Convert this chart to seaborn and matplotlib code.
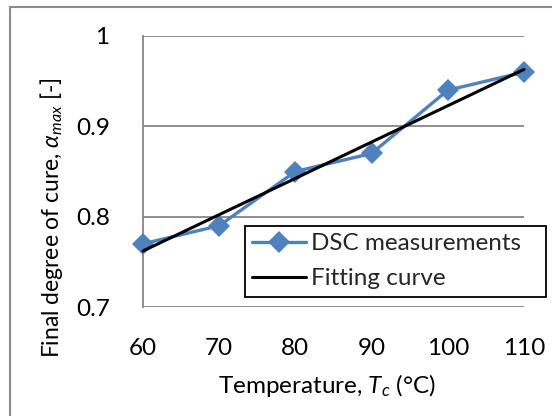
import matplotlib
matplotlib.use("Agg")
import matplotlib.pyplot as plt
import seaborn as sns
import pandas as pd
from matplotlib.patches import Rectangle

temps = [60, 70, 80, 90, 100, 110]
dsc_values = [0.77, 0.79, 0.85, 0.87, 0.94, 0.96]
fit_x = [60, 110]
fit_y = [0.762, 0.963]
x_ticks = [60, 70, 80, 90, 100, 110]
y_ticks = [0.7, 0.8, 0.9, 1.0]
y_tick_labels = ["0.7", "0.8", "0.9", "1"]

sns.set_theme(style="white")
plt.rcParams['font.family'] = ['Lato', 'DejaVu Sans']
plt.rcParams['mathtext.fontset'] = 'custom'
plt.rcParams['mathtext.it'] = 'Lato:italic'
plt.rcParams['mathtext.rm'] = 'Lato'

FS = 17.5
W, H = 552, 416

fig = plt.figure(figsize=(5.52, 4.16), dpi=100)
ax = fig.add_axes([143/W, 1-307/H, (524-143)/W, (307-36)/H])

df_dsc = pd.DataFrame({"T": temps, "a": dsc_values})
df_fit = pd.DataFrame({"T": fit_x, "a": fit_y})

sns.lineplot(data=df_dsc, x="T", y="a", ax=ax, color="#4F81BD", linewidth=2.4,
             marker="D", markersize=11, markeredgewidth=0, label="DSC measurements",
             zorder=3, clip_on=False)
sns.lineplot(data=df_fit, x="T", y="a", ax=ax, color="black", linewidth=2.2,
             label="Fitting curve", zorder=4, clip_on=False)

ax.set_xlim(60, 110)
ax.set_ylim(0.7, 1.0)
ax.set_xticks(x_ticks)
ax.set_yticks(y_ticks)
ax.set_yticklabels(y_tick_labels)
ax.tick_params(axis='both', labelsize=FS, length=0, colors='black')
ax.tick_params(axis='x', pad=22)
ax.tick_params(axis='y', pad=24)
ax.yaxis.grid(True, color="#868686", linewidth=1.3)
ax.xaxis.grid(False)
for s in ["top", "right", "bottom"]:
    ax.spines[s].set_visible(False)
ax.spines["left"].set_color("#868686")
ax.spines["left"].set_linewidth(1.3)

ax.set_xlabel("Temperature, $T_c$ (°C)", fontsize=FS, color="black")
ax.set_ylabel("Final degree of cure, $\\alpha_{max}$ [-]", fontsize=16.5, color="black")
ax.xaxis.set_label_coords(0.483, -0.24)
ax.yaxis.set_label_coords(-0.205, 0.33)

leg = ax.legend(loc="upper left", bbox_to_anchor=(245/W, 1-301/H, (546-245)/W, (301-226)/H),
                bbox_transform=fig.transFigure, mode="expand", fontsize=FS, frameon=True,
                fancybox=False, framealpha=1, edgecolor="black", borderpad=0.3,
                handlelength=2.2, handletextpad=0.2, labelspacing=0.58, borderaxespad=0,
                alignment="center")
leg.get_frame().set_linewidth(1.3)

fig.patches.append(Rectangle((10/W, -0.1), 1.2, 1-7/H+0.1, transform=fig.transFigure,
                             fill=False, edgecolor="#8C8C8C", linewidth=1.5))

fig.savefig("out.png", dpi=100)
